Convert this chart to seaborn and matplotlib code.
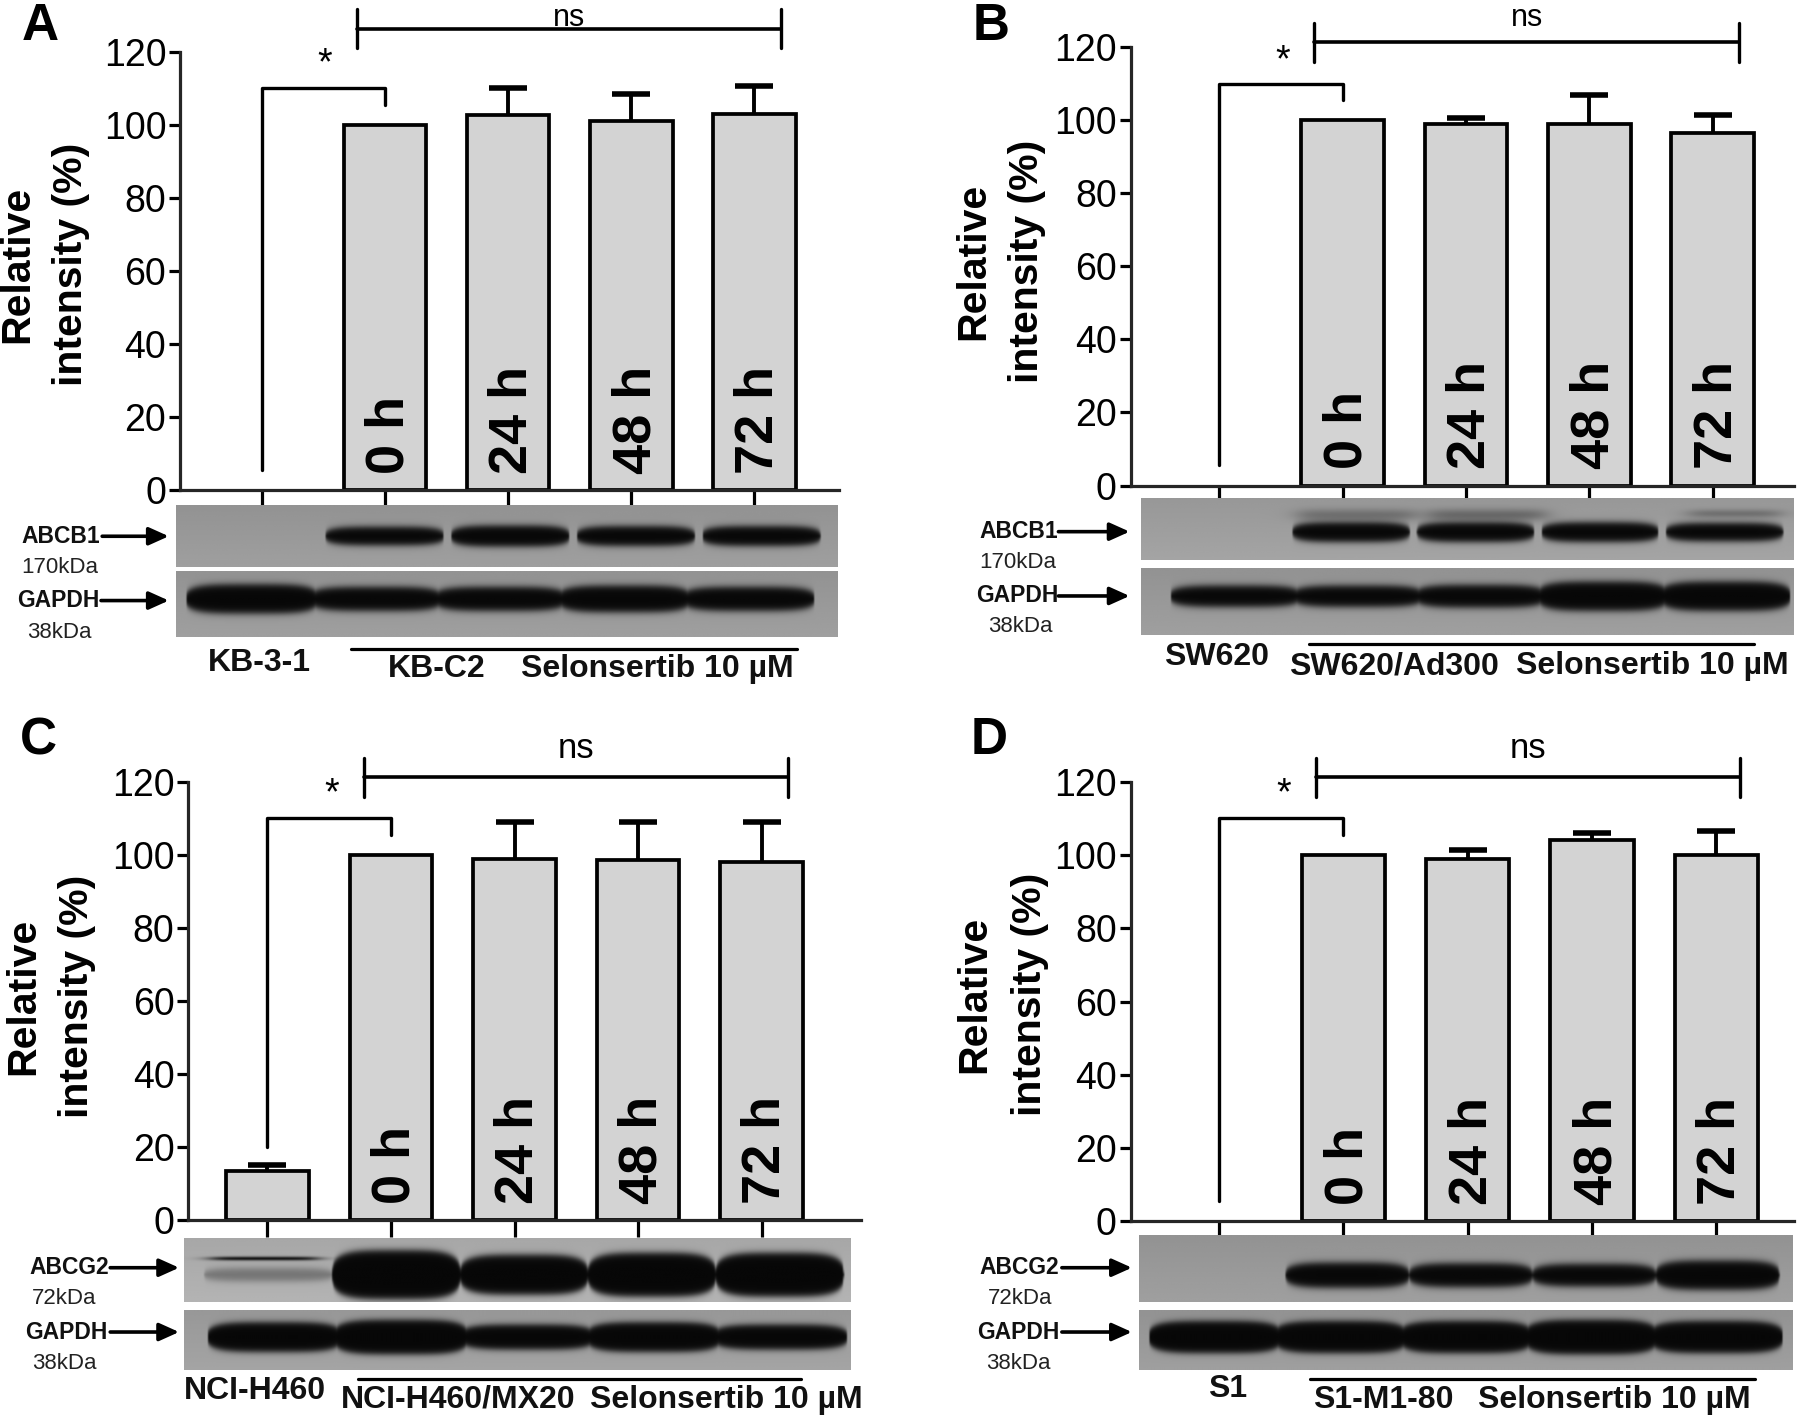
import numpy as np
import pandas as pd
import matplotlib
matplotlib.use('Agg')
import matplotlib.pyplot as plt
import seaborn as sns

times = ['parental', '0 h', '24 h', '48 h', '72 h']

# bar heights and top of the error bar
vals_a = [0, 100, 102.7, 101, 103]
tops_a = [0, 100, 110, 108.3, 110.6]
vals_b = [0, 100, 99, 99, 96.5]
tops_b = [0, 100, 100.5, 107, 101.5]
vals_c = [13.5, 100, 99, 98.5, 98]
tops_c = [15, 100, 109, 109, 109]
vals_d = [0, 100, 99, 104, 100]
tops_d = [0, 100, 101.5, 106, 106.5]

# band darkness per lane on the blots
abcb1_a = [0, 1, 1, 1, 1]
gapdh_a = [1, 1, 1, 1, 1]
abcb1_b = [0, 1, 1, 1, 1]
gapdh_b = [1, 1, 1, 1, 1]
abcg2_c = [0.35, 1, 1, 1, 1]
gapdh_c = [1, 1, 1, 1, 1]
abcg2_d = [0, 1, 1, 1, 1]
gapdh_d = [1, 1, 1, 1, 1]

# band half thickness per lane, as share of the blot height
thick_abcb1_a = [0, .15, .17, .16, .16]
thick_gapdh_a = [.22, .18, .18, .2, .18]
thick_abcb1_b = [0, .16, .16, .16, .15]
thick_gapdh_b = [.16, .16, .17, .22, .22]
thick_abcg2_c = [.1, .38, .31, .34, .34]
thick_gapdh_c = [.25, .29, .21, .25, .21]
thick_abcg2_d = [0, .19, .18, .17, .22]
thick_gapdh_d = [.27, .27, .27, .29, .27]

S = 1800 / 1568  # layout below was measured on the shrunk picture

sns.set_theme(style='ticks')
plt.rcParams['font.family'] = ['Liberation Sans', 'DejaVu Sans']
plt.rcParams['axes.linewidth'] = 2.3

fig = plt.figure(figsize=(18, 14.17), dpi=100)


def add_px_axes(x0, y0, x1, y1):
    return fig.add_axes([x0 * S / 1800, 1 - y1 * S / 1417, (x1 - x0) * S / 1800, (y1 - y0) * S / 1417])


def draw_blot(px, strength, thick, center, lanes, grey=0.6, reach=0.53, faint=()):
    ax = add_px_axes(*px)
    h, w = 120, 500
    yy, xx = np.mgrid[0:1:h * 1j, 0:1:w * 1j]
    img = grey + 0.05 * (yy - 0.5)
    # faint smears: x from, x to, y, half height, amount
    for fx0, fx1, fy, fh, amount in faint:
        m = np.exp(-((yy - fy) / fh) ** 2) * (1 / (1 + np.exp((fx0 - xx) / .01))) * (1 / (1 + np.exp((xx - fx1) / .01)))
        img = img * (1 - amount * m) + 0.05 * amount * m
    x0, x1 = lanes
    lane_w = (x1 - x0) / len(strength)
    cov = np.zeros_like(xx)
    for i, (s, t) in enumerate(zip(strength, thick)):
        if s == 0:
            continue
        cx = x0 + (i + 0.5) * lane_w
        hw = lane_w * reach
        u = np.clip(np.abs(xx - cx) / hw, 0, 1)
        half = t * (1 - u ** 4) ** 0.3
        edge = 1 / (1 + np.exp((np.abs(yy - center) - half) / 0.03))
        edge[np.abs(xx - cx) > hw] = 0
        cov = np.maximum(cov, s * edge)
    img = img * (1 - cov) + 0.03 * cov
    ax.imshow(img, cmap='gray', vmin=0, vmax=1, aspect='auto', extent=(0, 1, 1, 0), interpolation='bicubic')
    ax.axis('off')
    return ax


def draw_panel(vals, tops, px):
    ax = add_px_axes(px['left'], px['y120'], px['right'], px['y0'])
    df = pd.DataFrame({'time': times, 'value': vals})
    sns.barplot(data=df, x='time', y='value', order=times, color='#d3d3d3', saturation=1,
                edgecolor='black', linewidth=2.7, width=0.67, ax=ax)
    for p in ax.patches:
        if p.get_height() == 0:
            p.set_visible(False)
    for i, (v, t) in enumerate(zip(vals, tops)):
        if t > v:
            _, caps, _ = ax.errorbar(i, v, yerr=[[0], [t - v]], color='black', elinewidth=2.8, capsize=14,
                                     capthick=4, zorder=5)
            caps[0].set_visible(False)
    step = (px['tick1'] - px['tick0'])
    ax.set_xlim((px['left'] - px['tick0']) / step, (px['right'] - px['tick0']) / step)
    ax.set_ylim(0, 120)
    ax.set_yticks(range(0, 121, 20))
    ax.set_xticks(range(5))
    ax.set_xticklabels([])
    ax.set_xlabel('')
    ax.set_ylabel('')
    ax.tick_params(axis='y', labelsize=27, length=8, width=2.3, pad=2, colors='black')
    ax.tick_params(axis='x', length=12, width=2.3, pad=0, colors='black')
    sns.despine(ax=ax)
    for i, lab in enumerate(times[1:], start=1):
        ax.text(i + 0.04, 4.5, lab, rotation=90, ha='center', va='bottom', fontsize=39, fontweight='bold', color='black')

    # significance brackets
    unit = 120 / (px['y0'] - px['y120'])
    to_y = lambda py: (px['y0'] - py) * unit
    ax.plot([0, 0, 1, 1], [px['low'], 110, 110, 105.5], color='black', lw=2.4, clip_on=False)
    ns0 = (px['ns0'] - px['tick0']) / step
    ns1 = (px['ns1'] - px['tick0']) / step
    for v in (ns0, ns1):
        ax.plot([v, v], [to_y(px['nsy'] - 17), to_y(px['nsy'] + 17)], color='black', lw=2.4, clip_on=False)
    ax.plot([ns0, ns1], [to_y(px['nsy'])] * 2, color='black', lw=2.6, clip_on=False)
    ax.text((ns0 + ns1) / 2, to_y(px['nst']), 'ns', ha='center', va='center', fontsize=px['nsf'], color='black', clip_on=False)
    ax.text(ns0 - 0.26, to_y(px['star']), '*', ha='center', va='center', fontsize=27, color='black', clip_on=False)
    return ax


panel_a = dict(left=157, right=731, y120=45, y0=427, tick0=228, tick1=335.3, ns0=311, ns1=680, nsy=25, nst=15.5, nsf=22, star=56, low=5.5)
panel_b = dict(left=985, right=1563, y120=41, y0=423, tick0=1062, tick1=1169.5, ns0=1145, ns1=1515, nsy=37, nst=15.5, nsf=22, star=53, low=5.5)
panel_c = dict(left=164, right=750, y120=681, y0=1063, tick0=233, tick1=340.6, ns0=317, ns1=686, nsy=677, nst=652, nsf=25, star=692, low=20)
panel_d = dict(left=985, right=1563, y120=681, y0=1064, tick0=1062, tick1=1170.3, ns0=1146, ns1=1516, nsy=677, nst=652, nsf=25, star=692, low=5.5)

draw_panel(vals_a, tops_a, panel_a)
draw_panel(vals_b, tops_b, panel_b)
draw_panel(vals_c, tops_c, panel_c)
draw_panel(vals_d, tops_d, panel_d)

# blots
draw_blot((153, 440, 729, 494), abcb1_a, thick_abcb1_a, .5, (.03, .98), reach=.47)
draw_blot((153, 497, 729, 555), gapdh_a, thick_gapdh_a, .43, (.02, .96))
draw_blot((994, 434, 1562, 488), abcb1_b, thick_abcb1_b, .55, (.035, .99), .62, reach=.47,
          faint=[(.24, .42, .27, .1, .3), (.44, .62, .27, .1, .35), (.84, .98, .25, .07, .3)])
draw_blot((994, 495, 1562, 553), gapdh_b, thick_gapdh_b, .42, (.05, .99), .6)

draw_blot((160, 1078, 741, 1134), abcg2_c, thick_abcg2_c, .58, (.03, .99), .68, reach=.5,
          faint=[(.04, .2, .33, .03, 1.0)])
draw_blot((160, 1141, 741, 1193), gapdh_c, thick_gapdh_c, .45, (.04, .99), .62)
draw_blot((992, 1076, 1561, 1134), abcg2_d, thick_abcg2_d, .6, (.035, .98), .6, reach=.5)
draw_blot((992, 1141, 1561, 1193), gapdh_d, thick_gapdh_d, .45, (.02, .98), .6)

# overlay for letters, blot labels and arrows
ov = fig.add_axes([0, 0, 1, 1], zorder=10)
ov.set_xlim(0, 1568)
ov.set_ylim(1234, 0)
ov.axis('off')
ov.patch.set_alpha(0)

for lab, x, y in (('A', 35, 23), ('B', 863, 23), ('C', 33, 645), ('D', 862, 645)):
    ov.text(x, y, lab, fontsize=37, fontweight='bold', color='black', ha='center', va='center')

for x1, x2, y in ((15, 62, 230), (848, 895, 228), (20, 67, 868), (849, 897, 866)):
    ov.text(x1, y, 'Relative', rotation=90, fontsize=29.5, fontweight='bold', color='black', ha='center', va='center')
    ov.text(x2, y, 'intensity (%)', rotation=90, fontsize=29.5, fontweight='bold', color='black', ha='center', va='center')


def blot_label(name, kda, x_name, x_kda, y, y_kda, a0, a1):
    ov.text(x_name, y, name, fontsize=16.5, fontweight='bold', color='#111111', ha='center', va='center')
    ov.text(x_kda, y_kda, kda, fontsize=16, color='#222222', ha='center', va='center')
    ov.annotate('', xy=(a1, y), xytext=(a0, y),
                arrowprops=dict(arrowstyle='-|>,head_width=0.45,head_length=1.0', color='black', lw=2.6, shrinkA=0, shrinkB=0))


blot_label('ABCB1', '170kDa', 53, 52, 467, 494, 89, 147)
blot_label('GAPDH', '38kDa', 51, 52, 523, 551, 88, 147)
blot_label('ABCB1', '170kDa', 887, 887, 463, 490, 922, 984)
blot_label('GAPDH', '38kDa', 886, 889, 519, 546, 922, 984)
blot_label('ABCG2', '72kDa', 60, 56, 1104, 1131, 96, 156)
blot_label('GAPDH', '38kDa', 58, 56, 1160, 1187, 96, 156)
blot_label('ABCG2', '72kDa', 888, 889, 1104, 1131, 925, 986)
blot_label('GAPDH', '38kDa', 887, 887, 1160, 1187, 925, 986)

cell_labels = [('KB-3-1', 226, 577), ('KB-C2', 380, 583), ('Selonsertib 10 µM', 573, 583),
               ('SW620', 1060, 572), ('SW620/Ad300', 1214, 580), ('Selonsertib 10 µM', 1439, 580),
               ('NCI-H460', 222, 1211), ('NCI-H460/MX20', 399, 1219), ('Selonsertib 10 µM', 633, 1219),
               ('S1', 1069, 1210), ('S1-M1-80', 1205, 1219), ('Selonsertib 10 µM', 1406, 1219)]
for lab, x, y in cell_labels:
    ov.text(x, y, lab, fontsize=23, fontweight='bold', color='#111111', ha='center', va='center')

for x0, x1, y in ((306, 694, 565), (1140, 1528, 561), (312, 698, 1201), (1141, 1529, 1201)):
    ov.plot([x0, x1], [y, y], color='black', lw=2.3)

fig.savefig('out.png', dpi=100)
